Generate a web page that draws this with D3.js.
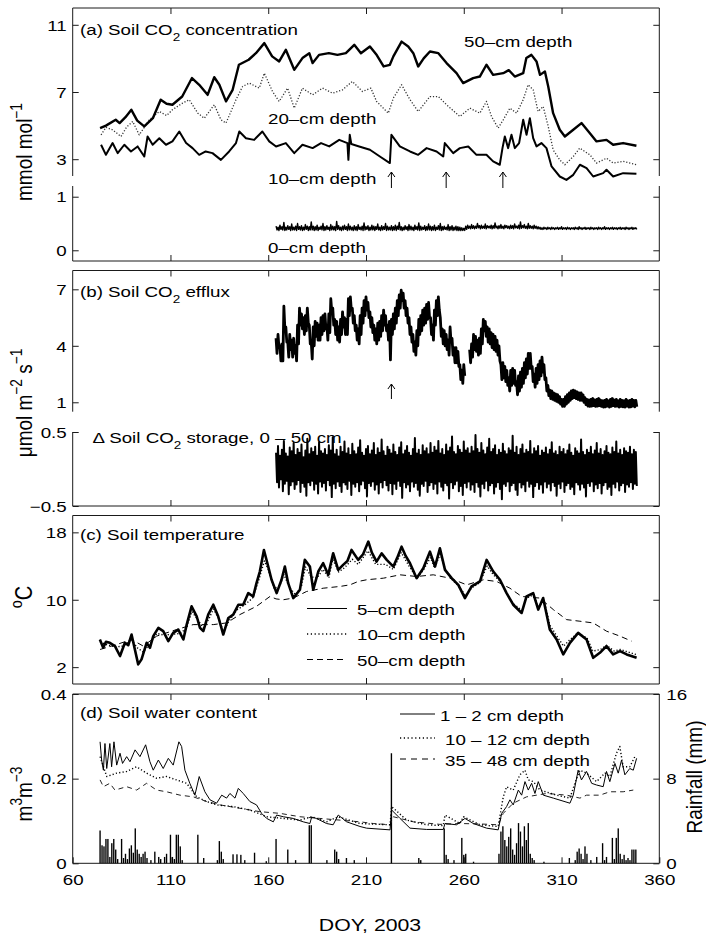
<!DOCTYPE html>
<html><head><meta charset="utf-8">
<script src="https://cdn.jsdelivr.net/npm/d3@7"></script>
<style>
body{margin:0;background:#fff}
svg{display:block}
text{font-family:"Liberation Sans",Arial,Helvetica,sans-serif;fill:#000}
</style>
</head><body>
<svg id="c" width="706" height="938"></svg>
<script>
// ---------------- DATA ----------------
const doyTicks = [60,110,160,210,260,310,360];
const co2Ticks = [3,7,11];
const co2LowTicks = [0,1];
const effluxTicks = [1,4,7];
const storageTicks = [-0.5,0.5];
const tempTicks = [2,10,18];
const swcTicks = [0,0.2,0.4];
const rainTicks = [0,8,16];

// (a) soil CO2 concentration, mmol mol-1  [DOY, value]
const co2_50cm = [[74,4.85],[77,5.0],[82,5.35],[84,5.15],[87,5.5],[90,5.94],[93,5.3],[96.6,4.95],[101,5.44],[105,6.54],[108,6.3],[111,6.24],[116,6.73],[121,7.83],[124.7,7.43],[129,6.83],[132.4,7.88],[135,7.43],[138.4,6.44],[141.8,7.13],[145,8.62],[150,8.92],[153.7,9.31],[158,9.91],[162,9.12],[165.6,8.82],[169,9.51],[173.3,8.32],[177.5,9.02],[181,9.31],[182.7,8.72],[186,9.21],[191,9.31],[195.4,9.21],[199.7,9.31],[204,9.81],[207.4,9.31],[212,9.71],[215.5,9.2],[219,8.52],[222.2,8.62],[224,9.12],[228.2,10.0],[231.6,9.71],[234.2,9.31],[236.7,8.52],[239.5,9.0],[242.7,9.41],[247,9.31],[251.2,8.72],[256.3,8.12],[259.7,7.53],[264.8,7.83],[268.2,7.92],[271.6,8.62],[275,8.02],[280.2,8.12],[283,8.3],[286.1,7.92],[290.4,8.12],[292,9.02],[294.6,9.21],[297.2,8.82],[299,8.02],[301.5,8.22],[303.2,7.33],[305.7,5.74],[309.1,4.75],[311.7,4.35],[316,4.75],[320.2,5.15],[324.5,4.55],[327.9,4.06],[333,4.15],[336.4,3.86],[341.5,3.96],[348.3,3.8]];
const co2_20cm = [[74.5,4.45],[77,4.9],[80.4,4.75],[84.7,4.35],[87.5,4.9],[90.7,5.25],[94,4.45],[99.2,5.35],[104.3,5.84],[108,5.6],[111,5.94],[116.2,6.34],[119.6,6.54],[124,5.74],[127.3,5.44],[132.4,6.24],[135.8,5.35],[138.4,5.15],[143.5,6.54],[146.9,7.33],[150.3,7.53],[155.4,7.23],[158,8.12],[162.2,7.03],[165.6,6.44],[169.9,7.23],[173.3,6.04],[177.5,7.23],[182.7,6.83],[187.8,7.23],[192.9,6.93],[198,7.13],[203,7.63],[208.2,7.03],[210.3,7.13],[212.5,7.23],[215.4,6.44],[221.4,5.74],[224,6.64],[228.2,7.43],[232.5,6.54],[236.7,5.84],[242.7,6.73],[247,6.73],[251.2,6.24],[258,5.54],[263.1,6.04],[268.2,5.74],[271.6,6.44],[274.2,5.54],[277.6,4.85],[280.2,5.35],[283.6,6.04],[287,5.74],[290.4,6.54],[292.9,7.43],[295.5,7.13],[298,5.84],[300.6,6.14],[303.2,4.95],[305.7,3.56],[309.1,2.96],[311.7,2.67],[316,3.16],[319.3,3.66],[324.5,3.26],[327.9,2.77],[333,3.06],[336.4,2.77],[341.5,2.87],[348.3,2.67]];
const co2_10cm = [[74.5,3.86],[77,3.26],[80.4,3.96],[83,3.36],[86.4,3.86],[89.8,3.46],[93.2,3.76],[96.6,3.16],[98.3,4.35],[100.9,3.86],[104.3,4.25],[107.7,3.86],[111,4.06],[114.5,4.65],[118,3.96],[121.3,3.66],[124.7,3.26],[128,3.46],[131.5,3.36],[135.8,2.96],[140,3.46],[143.5,3.96],[145.2,4.65],[148.6,4.25],[152.8,4.15],[157,4.65],[160.5,4.06],[164,3.76],[169,3.96],[173.3,3.36],[177.5,3.86],[182.7,3.66],[187,3.96],[191.2,3.76],[196.3,4.15],[200.5,3.96],[201,2.96],[201.7,4.45],[202.5,3.9],[206.5,3.76],[212,3.56],[217.1,3.16],[222.2,2.77],[223,4.45],[227.3,3.76],[232.5,3.46],[236.7,3.26],[241,3.66],[246.1,3.46],[249.5,3.16],[250.3,3.96],[254.6,3.36],[258,3.66],[262.3,3.76],[266.5,3.26],[271.6,3.26],[275,2.87],[278.4,2.67],[279.8,3.66],[281,4.35],[282.7,3.66],[284.4,4.45],[286.1,3.66],[288.3,3.96],[290.4,5.35],[292.1,4.45],[293.8,5.44],[295.5,4.25],[297.2,3.76],[299.7,3.96],[302.3,3.66],[304.9,2.57],[309.1,1.97],[312.5,1.77],[316,2.07],[319.4,2.67],[322.8,2.47],[326.2,1.97],[331.3,2.17],[333,2.37],[336.4,1.97],[341.5,2.17],[348.3,2.13]];
// 0-cm depth: daily high / low, DOY 164..348
const zeroStart = 164;
const zeroHigh = [0.45,0.43,0.47,0.44,0.52,0.43,0.46,0.44,0.49,0.43,0.45,0.5,0.44,0.46,0.43,0.48,0.45,0.44,0.53,0.45,
0.44,0.47,0.43,0.45,0.5,0.44,0.46,0.43,0.48,0.45,0.44,0.54,0.46,0.43,0.45,0.47,0.44,0.49,0.45,0.43,
0.46,0.44,0.48,0.43,0.45,0.51,0.44,0.46,0.43,0.47,0.45,0.44,0.49,0.43,0.46,0.44,0.5,0.45,0.43,0.46,
0.44,0.47,0.45,0.52,0.44,0.43,0.46,0.44,0.48,0.45,0.43,0.47,0.44,0.51,0.45,0.43,0.46,0.44,0.49,0.45,
0.44,0.47,0.43,0.46,0.5,0.44,0.45,0.43,0.48,0.44,0.46,0.43,0.45,0.44,0.43,0.42,0.41,0.45,0.47,0.45,
0.48,0.46,0.45,0.5,0.46,0.47,0.45,0.49,0.46,0.45,0.47,0.46,0.51,0.45,0.46,0.48,0.45,0.47,0.46,0.45,
0.47,0.46,0.49,0.45,0.47,0.53,0.46,0.48,0.45,0.5,0.46,0.45,0.47,0.45,0.44,0.43,0.42,0.43,0.42,0.43,
0.42,0.43,0.42,0.42,0.43,0.42,0.44,0.42,0.42,0.43,0.42,0.42,0.42,0.43,0.42,0.44,0.42,0.42,0.43,0.42,
0.42,0.43,0.42,0.42,0.42,0.43,0.42,0.42,0.44,0.42,0.42,0.42,0.43,0.42,0.42,0.42,0.43,0.42,0.42,0.43,
0.42,0.42,0.43,0.42,0.42];
const zeroLow = [0.38,0.37,0.39,0.38,0.37,0.38,0.39,0.37,0.38,0.38,0.37,0.39,0.38,0.37,0.38,0.39,0.37,0.38,0.38,0.37,
0.38,0.37,0.39,0.38,0.37,0.38,0.39,0.37,0.38,0.38,0.37,0.39,0.38,0.37,0.38,0.39,0.37,0.38,0.38,0.37,
0.38,0.37,0.39,0.38,0.37,0.38,0.39,0.37,0.38,0.38,0.37,0.39,0.38,0.37,0.38,0.39,0.37,0.38,0.38,0.37,
0.38,0.37,0.39,0.38,0.37,0.38,0.39,0.37,0.38,0.38,0.37,0.39,0.38,0.37,0.38,0.39,0.37,0.38,0.38,0.37,
0.38,0.37,0.39,0.38,0.37,0.38,0.39,0.38,0.37,0.38,0.37,0.38,0.37,0.37,0.37,0.37,0.37,0.39,0.41,0.4,
0.41,0.4,0.41,0.42,0.4,0.41,0.41,0.4,0.42,0.41,0.4,0.41,0.42,0.4,0.41,0.41,0.4,0.42,0.41,0.4,
0.41,0.4,0.42,0.41,0.4,0.41,0.42,0.41,0.4,0.41,0.41,0.4,0.41,0.4,0.4,0.39,0.39,0.4,0.39,0.4,
0.39,0.4,0.39,0.4,0.39,0.4,0.39,0.4,0.39,0.4,0.39,0.4,0.39,0.4,0.39,0.4,0.39,0.4,0.39,0.4,
0.39,0.4,0.39,0.4,0.39,0.4,0.39,0.4,0.39,0.4,0.39,0.4,0.39,0.4,0.39,0.4,0.39,0.4,0.39,0.4,
0.39,0.4,0.39,0.4,0.39];
const arrowDaysA = [223,251,280];
const arrowDaysB = [223];

// (b) soil CO2 efflux, umol m-2 s-1: daily high / low, DOY 164..348 (gap on 261-262)
const effluxStart = 164;
const effluxHigh = [4.4,4.6,4.0,4.1,6.1,5.0,4.2,4.6,4.3,4.4,4.0,5.1,6.0,5.7,5.5,5.6,6.0,5.1,4.2,5.0,
5.3,5.2,5.1,5.5,5.6,5.7,5.1,5.7,6.5,6.0,5.4,5.3,5.0,5.4,5.8,5.5,5.4,6.5,6.6,6.0,
5.6,5.1,4.9,5.6,6.0,6.4,6.6,6.3,5.8,5.5,5.1,4.9,5.2,5.3,5.6,5.9,5.6,5.1,5.3,5.4,
5.7,6.0,6.4,6.7,6.95,6.8,6.4,6.0,5.5,5.0,4.6,4.2,4.8,5.4,5.6,5.9,6.0,6.2,6.3,5.5,
5.1,5.9,6.4,6.6,5.5,4.9,4.8,4.6,4.3,5.0,4.4,3.9,3.9,3.7,3.0,2.7,3.0,null,null,3.8,
4.1,4.6,4.5,4.3,4.4,4.9,5.4,5.3,5.0,4.9,4.7,4.6,4.5,4.3,4.0,3.0,3.1,2.9,2.7,2.3,
2.7,2.8,2.7,2.1,2.4,2.6,2.8,3.1,3.3,3.6,3.6,2.9,2.5,2.8,3.0,3.2,3.4,3.0,2.3,1.9,
1.65,1.6,1.5,1.45,1.4,1.3,1.15,1.15,1.3,1.4,1.5,1.6,1.65,1.6,1.55,1.5,1.5,1.4,1.25,1.15,
1.12,1.15,1.2,1.12,1.15,1.2,1.12,1.08,1.1,1.15,1.08,1.15,1.2,1.12,1.15,1.08,1.15,1.1,1.08,1.15,
1.08,1.1,1.15,1.1,1.1];
const effluxLow = [3.6,3.9,3.2,3.2,4.9,4.2,3.4,3.8,3.4,3.6,3.2,4.1,5.1,4.9,4.6,4.8,5.2,4.1,3.3,4.0,
4.5,4.3,4.3,4.6,4.8,4.9,4.3,4.7,5.8,5.1,4.6,4.3,4.2,4.6,5.0,4.6,4.6,5.6,5.9,5.2,
4.8,4.3,4.1,4.6,5.2,5.6,5.9,5.5,5.0,4.7,4.3,4.1,4.3,4.5,4.8,5.1,4.8,4.3,3.25,4.6,
4.9,5.2,5.6,6.0,6.4,6.0,5.6,5.2,4.6,4.2,3.7,3.5,4.0,4.6,4.8,5.1,5.2,5.4,5.5,4.6,
4.3,5.1,5.6,5.9,4.5,4.1,4.0,3.8,3.5,4.2,3.5,3.1,3.1,2.9,2.2,2.0,2.4,null,null,3.1,
3.4,3.8,3.7,3.5,3.6,4.1,4.8,4.5,4.2,4.1,3.9,3.8,3.7,3.5,3.2,2.2,2.3,2.1,1.9,1.6,
1.9,2.0,1.9,1.4,1.6,1.8,2.0,2.3,2.5,2.8,2.8,2.1,1.8,2.0,2.2,2.4,2.6,2.2,1.6,1.35,
1.2,1.15,1.1,1.05,1.0,0.9,0.78,0.78,0.9,1.0,1.1,1.2,1.25,1.2,1.15,1.1,1.1,1.0,0.88,0.8,
0.78,0.8,0.82,0.78,0.8,0.82,0.78,0.75,0.76,0.8,0.75,0.78,0.82,0.78,0.8,0.75,0.78,0.76,0.75,0.8,
0.75,0.76,0.8,0.76,0.76];
// change in storage 0-50 cm: daily high / low, DOY 164..348
const storageStart = 164;
const storageHigh = [0.22,0.31,0.18,0.26,0.38,0.21,0.17,0.29,0.24,0.35,0.19,0.27,0.22,0.33,0.16,0.25,0.41,0.2,0.28,0.23,
0.3,0.18,0.36,0.24,0.21,0.27,0.19,0.32,0.25,0.43,0.2,0.26,0.17,0.3,0.23,0.37,0.21,0.28,0.19,0.34,
0.24,0.2,0.29,0.39,0.22,0.18,0.27,0.31,0.2,0.25,0.35,0.19,0.28,0.22,0.4,0.24,0.18,0.3,0.26,0.21,
0.33,0.23,0.19,0.29,0.36,0.2,0.25,0.31,0.22,0.18,0.27,0.42,0.21,0.26,0.19,0.32,0.24,0.28,0.2,0.35,
0.22,0.3,0.25,0.38,0.21,0.27,0.19,0.33,0.24,0.29,0.44,0.23,0.2,0.31,0.26,0.22,0.37,0.25,0.28,0.21,
0.3,0.24,0.46,0.27,0.22,0.35,0.25,0.2,0.29,0.41,0.23,0.27,0.32,0.19,0.26,0.22,0.34,0.24,0.2,0.28,
0.25,0.45,0.22,0.3,0.19,0.27,0.33,0.21,0.26,0.23,0.38,0.2,0.28,0.24,0.31,0.18,0.25,0.22,0.29,0.2,
0.26,0.36,0.21,0.24,0.19,0.3,0.23,0.27,0.2,0.25,0.33,0.22,0.18,0.28,0.24,0.21,0.4,0.23,0.19,0.26,
0.22,0.3,0.2,0.25,0.35,0.21,0.27,0.19,0.24,0.31,0.22,0.2,0.29,0.23,0.37,0.21,0.26,0.19,0.28,0.24,
0.22,0.3,0.2,0.26,0.23];
const storageLow = [-0.18,-0.25,-0.14,-0.3,-0.2,-0.16,-0.34,-0.22,-0.17,-0.27,-0.21,-0.15,-0.31,-0.19,-0.24,-0.36,-0.18,-0.22,-0.16,-0.28,
-0.2,-0.33,-0.17,-0.24,-0.19,-0.29,-0.15,-0.22,-0.38,-0.2,-0.26,-0.17,-0.23,-0.31,-0.18,-0.21,-0.27,-0.16,-0.35,-0.2,
-0.24,-0.18,-0.3,-0.21,-0.16,-0.26,-0.37,-0.19,-0.23,-0.17,-0.28,-0.21,-0.33,-0.18,-0.25,-0.15,-0.22,-0.29,-0.19,-0.34,
-0.2,-0.27,-0.16,-0.23,-0.39,-0.18,-0.25,-0.21,-0.3,-0.17,-0.24,-0.19,-0.28,-0.36,-0.2,-0.23,-0.16,-0.31,-0.22,-0.18,
-0.27,-0.2,-0.33,-0.17,-0.24,-0.29,-0.19,-0.22,-0.4,-0.18,-0.26,-0.21,-0.16,-0.3,-0.23,-0.35,-0.19,-0.25,-0.17,-0.28,
-0.21,-0.31,-0.18,-0.24,-0.37,-0.2,-0.26,-0.16,-0.29,-0.22,-0.19,-0.33,-0.24,-0.18,-0.27,-0.41,-0.2,-0.23,-0.17,-0.3,
-0.22,-0.19,-0.28,-0.35,-0.18,-0.25,-0.21,-0.3,-0.16,-0.24,-0.2,-0.38,-0.23,-0.18,-0.27,-0.21,-0.32,-0.17,-0.25,-0.2,
-0.29,-0.18,-0.23,-0.36,-0.2,-0.26,-0.17,-0.31,-0.22,-0.19,-0.27,-0.24,-0.34,-0.18,-0.21,-0.28,-0.2,-0.25,-0.37,-0.19,
-0.23,-0.17,-0.3,-0.21,-0.26,-0.19,-0.33,-0.22,-0.18,-0.27,-0.24,-0.35,-0.2,-0.25,-0.17,-0.29,-0.22,-0.19,-0.31,-0.21,
-0.24,-0.18,-0.27,-0.2,-0.23];

// (c) soil temperature, degC
const temp5cm = [[73.9,5.28],[75.6,4.3],[77,5.0],[79,4.89],[81.6,4.5],[84.2,3.32],[86.7,4.89],[88.4,4.6],[90.1,5.87],[91.8,4.1],[93.5,2.33],[95.2,2.92],[97.8,4.89],[99.5,4.3],[101.2,5.68],[103.8,6.66],[106.3,6.27],[108.9,5.09],[111.4,6.07],[114,6.46],[116.6,5.28],[118.3,7.05],[120.8,9.22],[123.4,8.04],[125.1,6.66],[126.8,6.27],[129.3,8.24],[131.9,9.41],[134.4,8.04],[137,5.87],[139.6,7.84],[142.1,8.24],[144.7,9.41],[147.2,9.41],[149.8,10.79],[152.3,10.39],[154,11.97],[155.7,13.35],[157.8,15.91],[160,13.94],[161.7,12.37],[164.3,10.79],[166.8,12.37],[168.5,13.94],[170.2,11.97],[172.8,10.2],[176.2,11.18],[178.7,14.73],[181.3,13.94],[183,11.18],[185.6,13.35],[188.1,14.34],[190.7,12.96],[193.2,15.52],[195.8,13.55],[198.3,14.14],[200.5,14.6],[202.6,15.91],[206,14.73],[208.5,15.4],[211.2,16.9],[213,15.6],[215.4,14.53],[218,15.5],[220.6,14.73],[224,13.94],[226,15.0],[228.2,16.3],[230.3,15.2],[232.5,14.33],[235.9,12.56],[239.3,13.74],[242.7,15.71],[245.3,13.94],[247.8,16.1],[250.4,13.55],[253.8,12.56],[257.2,11.77],[260.6,10.2],[264,11.58],[268.3,12.17],[271.7,14.73],[275.1,13.35],[278.5,12.37],[281.9,10.79],[285.3,9.41],[289.6,8.43],[292.1,10.39],[295.5,10.79],[298.1,8.83],[300.6,10.2],[304,6.46],[307.5,5.28],[310.9,3.51],[314.3,4.89],[318.5,6.07],[322.8,5.28],[326.2,3.11],[329.6,3.7],[333,4.5],[336.4,3.51],[339.9,3.9],[343.3,3.51],[348.4,3.11]];
const temp10cm = [[74,5.0],[78,4.6],[82,4.4],[86,4.5],[90,5.3],[93,4.3],[96,3.8],[99,4.6],[103,6.0],[107,5.8],[111,5.9],[115,6.0],[118,6.6],[121,8.6],[124,7.6],[127,6.6],[130,7.9],[132,8.9],[135,7.6],[137,6.2],[140,7.5],[144,8.8],[148,9.4],[152,10.2],[155,12.2],[158,14.6],[160,13.6],[163,11.3],[166,11.7],[168,13.0],[171,11.4],[174,10.6],[177,11.6],[179,13.9],[182,12.7],[185,12.6],[188,13.6],[191,12.6],[193,14.8],[196,13.3],[199,13.8],[203,14.8],[206,14.2],[211,15.8],[215,14.2],[220,14.2],[224,13.6],[228,15.6],[232,14.0],[236,12.6],[239,13.4],[243,15.0],[245,13.8],[248,15.4],[251,13.4],[254,12.4],[257,11.7],[261,10.5],[264,11.4],[268,12.0],[272,14.0],[275,13.0],[279,12.1],[282,10.7],[285,9.6],[290,8.7],[292,10.2],[296,10.6],[298,9.0],[301,10.0],[304,7.0],[307,5.9],[311,4.5],[314,5.2],[318,6.0],[323,5.5],[326,3.9],[330,4.1],[333,4.6],[337,3.9],[340,4.1],[344,3.8],[348,3.5]];
const temp50cm = [[74,4.1],[82.5,4.69],[90.1,5.28],[96.1,4.5],[102.9,5.68],[113.1,6.46],[121.6,7.05],[131.9,7.05],[138.7,7.25],[145.5,8.24],[154,9.22],[160.9,10.39],[164,10.1],[167.7,10.0],[172.8,10.2],[179.6,10.98],[188.1,11.37],[196.7,11.58],[201.8,11.77],[206,12.17],[210.3,12.37],[218.9,12.56],[227.4,12.96],[235.9,12.76],[244.4,12.96],[252.9,12.56],[261.5,11.77],[270,12.37],[276.8,12.17],[283.6,11.37],[289.6,10.39],[298.9,10.2],[305.8,8.83],[312.6,7.64],[319.4,7.45],[326.2,7.25],[333,6.27],[339.9,5.68],[345.8,5.09]];

// (d) soil water content, m3 m-3
const swc1to2 = [[74,0.287],[74.8,0.244],[75.7,0.22],[76.5,0.283],[77.4,0.224],[79,0.283],[79.9,0.228],[81.1,0.287],[82.5,0.232],[84.2,0.26],[85.5,0.236],[87.6,0.252],[89.3,0.24],[91.9,0.268],[94.4,0.252],[97.3,0.28],[99.5,0.24],[101.2,0.22],[103.8,0.244],[106.3,0.224],[108.9,0.248],[111.4,0.232],[114.3,0.287],[115.7,0.276],[117.4,0.22],[119.9,0.189],[122.5,0.161],[124.7,0.205],[127.6,0.169],[130.2,0.15],[133.6,0.142],[136.2,0.161],[138.7,0.154],[140.4,0.165],[143,0.154],[144.7,0.177],[147.2,0.165],[150.6,0.146],[154,0.138],[156.6,0.118],[159.2,0.106],[162.6,0.098],[164.3,0.114],[167.7,0.11],[172.8,0.106],[177.9,0.098],[181.3,0.094],[182.2,0.109],[184.7,0.106],[189.8,0.094],[193.2,0.091],[195.8,0.114],[200.1,0.098],[206.9,0.087],[210.3,0.083],[222.3,0.079],[223.1,0.126],[227.4,0.106],[232.5,0.083],[241,0.08],[249.5,0.08],[250.4,0.094],[256.3,0.091],[260.6,0.106],[264.9,0.094],[271.7,0.083],[277.6,0.079],[279.4,0.118],[281.9,0.134],[283.6,0.15],[285.3,0.138],[287.9,0.173],[289.6,0.161],[291.3,0.193],[293,0.173],[294.7,0.189],[296.4,0.165],[298.1,0.193],[300.7,0.161],[305.8,0.154],[314.3,0.142],[316,0.161],[318.5,0.22],[320.2,0.197],[322.8,0.217],[325.4,0.189],[327.9,0.185],[331.3,0.181],[333,0.217],[334.7,0.193],[337.3,0.236],[339,0.213],[340.7,0.244],[342.4,0.209],[344.9,0.224],[346.7,0.22],[348.4,0.248]];
const swc10to12 = [[74,0.252],[77.4,0.205],[82.5,0.213],[87.6,0.217],[92.7,0.228],[97.8,0.213],[102.9,0.201],[108,0.205],[113.1,0.197],[118.3,0.189],[123.4,0.157],[128.5,0.146],[133.6,0.138],[142.1,0.134],[150.6,0.126],[159.2,0.11],[167.7,0.106],[176.2,0.102],[182.2,0.11],[189.8,0.098],[195.8,0.11],[206.9,0.094],[222.3,0.091],[223.1,0.134],[230.8,0.102],[241,0.091],[249.5,0.089],[250.4,0.114],[258,0.094],[259.8,0.11],[268.3,0.091],[277.6,0.087],[280.2,0.157],[281.9,0.181],[285.3,0.173],[288.7,0.209],[291.3,0.22],[293,0.197],[295.6,0.193],[299,0.173],[307.5,0.161],[314.3,0.154],[316.8,0.189],[319.4,0.22],[322.8,0.213],[327.9,0.193],[332.2,0.213],[334.7,0.205],[338.1,0.26],[339.8,0.276],[341.5,0.228],[344.9,0.228],[347.5,0.252]];
const swc35to48 = [[74,0.197],[75.7,0.181],[79,0.189],[81.6,0.173],[87.6,0.181],[92.7,0.173],[97.8,0.189],[102.9,0.173],[108,0.169],[114.9,0.161],[121.7,0.157],[128.5,0.146],[135.3,0.138],[145.5,0.13],[155.7,0.122],[166,0.118],[176.2,0.11],[186.4,0.106],[196.7,0.102],[206.9,0.098],[213.7,0.094],[222.3,0.091],[224,0.11],[234.2,0.098],[247.8,0.092],[258,0.094],[268.3,0.093],[277.6,0.091],[280.2,0.118],[285.3,0.142],[292.1,0.157],[302.4,0.165],[312.6,0.161],[319.4,0.154],[322.8,0.161],[329.6,0.161],[334.7,0.169],[341.5,0.169],[346.7,0.173]];
// rainfall, mm
const rainDoy = [74,75,76,77,78,79,80,81,82,83,85,86,87,88,89,90,91,92,93,94,95,96,97,98,100,102,104,105,107,108,110,111,112,113,114,115,116,124,127,134,135,136,137,142,144,146,148,153,159,164,170,174,181,182,190,194,195,196,200,204,223,237,238,250,251,252,255,259,260,261,265,278,279,280,281,282,283,284,285,286,287,288,289,290,291,292,293,294,295,296,301,314,317,318,319,320,321,322,323,325,328,331,332,333,336,337,338,339,340,341,342,343,344,345,346,347,348];
const rainMm = [3.1,1.7,1.6,2.3,2.3,0.6,1.9,2.3,1.3,0.4,2.3,0.5,0.9,0.4,1.4,1.7,1.0,3.3,1.3,0.9,0.6,0.9,1.1,0.5,0.3,1.1,0.6,0.4,0.6,0.9,2.7,0.6,0.4,2.7,2.7,1.6,0.3,2.7,0.5,0.3,2.1,1.1,0.4,0.85,0.85,0.8,0.3,1.0,0.2,2.3,1.3,0.3,3.6,3.6,0.3,1.3,1.1,0.4,0.5,0.3,10.4,0.5,0.3,3.3,0.8,0.4,0.3,2.4,0.8,0.9,0.15,0.9,3.0,3.5,2.2,1.6,2.5,3.3,1.3,0.8,1.9,3.8,3.0,1.6,3.5,2.2,3.8,0.9,0.5,0.3,0.15,0.5,0.3,1.1,1.4,0.9,0.4,1.6,0.9,0.3,0.6,1.9,0.3,0.6,2.4,0.4,2.4,3.3,0.9,0.4,0.8,0.3,0.5,0.3,1.3,1.3,1.3];

// ---------------- DRAWING ----------------
const svg = d3.select('#c');
const SX = 1.25;   // horizontal text stretch of the original figure
const x = d3.scaleLinear().domain([60,360]).range([72.7,659.3]);

function rich(t, parts, size){
  let off = 0;
  parts.forEach(p => {
    let s = p, k = null;
    if (Array.isArray(p)) { s = p[0]; k = p[1]; }
    const target = k === 'sub' ? size*0.38 : k === 'sup' ? -size*0.45 : 0;
    t.append('tspan').attr('dy', target - off).attr('font-size', k ? size*0.72 : size).text(s);
    off = target;
  });
  return t;
}
function htext(px, py, parts, size, anchor){
  const t = svg.append('text')
    .attr('transform', `translate(${px},${py}) scale(${SX},1)`)
    .attr('font-size', size).attr('text-anchor', anchor || 'start');
  return rich(t, parts, size);
}
function vtext(px, py, parts, size){
  const t = svg.append('text')
    .attr('transform', `translate(${px},${py}) rotate(-90) scale(1,1.15)`)
    .attr('font-size', size).attr('text-anchor', 'middle');
  return rich(t, parts, size);
}

// frame + axes for one sub-panel
function panel(y, opts){
  const [yb, yt] = y.range();
  const g = svg.append('g');
  const x0 = x(60), x1 = x(360);
  const fr = g.append('g').attr('stroke', '#1a1a1a').attr('stroke-width', 1).attr('fill', 'none');
  fr.append('line').attr('x1', x0).attr('x2', x0).attr('y1', yt).attr('y2', yb);
  fr.append('line').attr('x1', x1).attr('x2', x1).attr('y1', yt).attr('y2', yb);
  if (opts.top) fr.append('line').attr('x1', x0).attr('x2', x1).attr('y1', yt).attr('y2', yt);
  if (opts.bottom) fr.append('line').attr('x1', x0).attr('x2', x1).attr('y1', yb).attr('y2', yb);

  const clean = a => { a.select('.domain').remove(); a.attr('font-family', null).attr('font-size', null); };
  const left = g.append('g').attr('transform', `translate(${x0},0)`)
    .call(d3.axisLeft(y).tickValues(opts.ticks).tickSize(-6).tickPadding(0).tickFormat(opts.fmt || (d => d)));
  clean(left);
  left.selectAll('text').attr('x', null).attr('dy', '0.35em')
    .attr('transform', `translate(-6,0) scale(${SX},1)`).attr('font-size', 15);
  const right = g.append('g').attr('transform', `translate(${x1},0)`)
    .call(d3.axisRight(opts.rightScale || y).tickValues(opts.rightTicks || opts.ticks).tickSize(-6)
      .tickFormat(opts.rightScale ? (d => d) : ''));
  clean(right);
  right.selectAll('text').attr('x', null).attr('dy', '0.35em')
    .attr('transform', `translate(7,0) scale(${SX},1)`).attr('font-size', 15);
  if (opts.top) {
    const a = g.append('g').attr('transform', `translate(0,${yt})`)
      .call(d3.axisTop(x).tickValues(doyTicks.slice(1, -1)).tickSize(-6).tickFormat(''));
    clean(a);
  }
  if (opts.bottom) {
    const a = g.append('g').attr('transform', `translate(0,${yb})`)
      .call(d3.axisBottom(x).tickValues(opts.xLabels ? doyTicks : doyTicks.slice(1, -1)).tickSize(-6)
        .tickPadding(0).tickFormat(opts.xLabels ? (d => d) : ''));
    clean(a);
    a.selectAll('text').attr('y', null).attr('dy', null)
      .attr('transform', `translate(0,21.5) scale(${SX},1)`).attr('font-size', 15);
  }
  g.selectAll('.tick line').attr('stroke', '#1a1a1a');
  return g;
}

const lineGen = y => d3.line().defined(d => d[1] !== null).x(d => x(d[0])).y(d => y(d[1]));
function draw(data, y, attrs){
  const p = svg.append('path').datum(data).attr('d', lineGen(y)).attr('fill', 'none')
    .attr('stroke', '#000').attr('stroke-linejoin', 'round');
  Object.entries(attrs || {}).forEach(([k, v]) => p.attr(k, v));
  return p;
}
// daily zig-zag between high and low values
function zigzag(start, hi, lo){
  const out = [];
  hi.forEach((h, i) => { out.push([start + i, h]); out.push([start + i + 0.5, lo[i]]); });
  return out;
}
function arrow(day, yTop, yBot){
  const xa = x(day);
  svg.append('path')
    .attr('d', `M${xa},${yBot}V${yTop}M${xa - 3.5},${yTop + 5}L${xa},${yTop}L${xa + 3.5},${yTop + 5}`)
    .attr('fill', 'none').attr('stroke', '#000').attr('stroke-width', 1);
}

// ---- panel (a)
const yA = d3.scaleLinear().domain([2,12]).range([176,8]);
const yA0 = d3.scaleLinear().domain([-0.2,1.2]).range([261,186]);
panel(yA, {ticks: co2Ticks, top: true});
panel(yA0, {ticks: co2LowTicks, bottom: true});
draw(co2_20cm, yA, {'stroke-width': 1.3, 'stroke-dasharray': '1.2,1.8', stroke: '#333'});
draw(co2_50cm, yA, {'stroke-width': 2.4});
draw(co2_10cm, yA, {'stroke-width': 2});
draw(zigzag(zeroStart, zeroHigh, zeroLow), yA0, {'stroke-width': 1.4});
htext(80, 35, ['(a) Soil CO', ['2','sub'], ' concentration'], 15);
htext(464, 47, ['50\u2013cm depth'], 15);
htext(268, 124, ['20\u2013cm depth'], 15);
htext(268, 184, ['10\u2013cm depth'], 15);
htext(268, 253, ['0\u2013cm depth'], 15);
arrowDaysA.forEach(d => arrow(d, 172, 188));
vtext(32, 152, ['mmol mol', ['\u22121','sup']], 19);

// ---- panel (b)
const yB = d3.scaleLinear().domain([0.5,8]).range([411.7,270.5]);
const yB0 = d3.scaleLinear().domain([-0.5,0.5]).range([506,432]);
panel(yB, {ticks: effluxTicks, top: true});
panel(yB0, {ticks: storageTicks, bottom: true, fmt: d => d < 0 ? '\u22120.5' : '0.5'});
draw(zigzag(effluxStart, effluxHigh, effluxLow), yB, {'stroke-width': 2.8});
draw(zigzag(storageStart, storageHigh, storageLow), yB0, {'stroke-width': 2});
htext(80, 297, ['(b) Soil CO', ['2','sub'], ' efflux'], 15);
htext(92.5, 443, ['\u0394 Soil CO', ['2','sub'], ' storage, 0 \u2013 50 cm'], 15);
arrowDaysB.forEach(d => arrow(d, 384, 399));
vtext(32, 403, ['\u03bcmol m', ['\u22122','sup'], ' s', ['\u22121','sup']], 19);

// ---- panel (c)
const yC = d3.scaleLinear().domain([0,20]).range([684,515.5]);
panel(yC, {ticks: tempTicks, top: true, bottom: true});
draw(temp50cm, yC, {'stroke-width': 1, 'stroke-dasharray': '6,4'});
draw(temp10cm, yC, {'stroke-width': 1.4, 'stroke-dasharray': '1.2,2'});
draw(temp5cm, yC, {'stroke-width': 2.6});
htext(80, 540, ['(c) Soil temperature'], 15);
const legC = [['5\u2013cm depth', null, 1.2, 608.5], ['10\u2013cm depth', '1.2,2.6', 1.4, 634], ['50\u2013cm depth', '6,4', 1, 659.5]];
legC.forEach(([label, dash, w, ly]) => {
  svg.append('line').attr('x1', 307).attr('x2', 347).attr('y1', ly).attr('y2', ly)
    .attr('stroke', '#000').attr('stroke-width', w).attr('stroke-dasharray', dash);
  htext(357, ly + 6, [label], 15);
});
vtext(32, 597, [['o','sup'], 'C'], 20);

// ---- panel (d)
const yD = d3.scaleLinear().domain([0,0.4]).range([863.3,694]);
const yR = d3.scaleLinear().domain([0,16]).range([863.3,694]);
panel(yD, {ticks: swcTicks, top: true, bottom: true, xLabels: true, rightScale: yR, rightTicks: rainTicks});
svg.append('g').selectAll('rect').data(rainDoy.map((d, i) => [d, rainMm[i]])).join('rect')
  .attr('x', d => x(d[0] - 0.35)).attr('width', d => x(d[0] + 0.35) - x(d[0] - 0.35))
  .attr('y', d => yR(d[1])).attr('height', d => yR(0) - yR(d[1])).attr('fill', '#000');
draw(swc35to48, yD, {'stroke-width': 1, 'stroke-dasharray': '5,4', stroke: '#222'});
draw(swc10to12, yD, {'stroke-width': 1.4, 'stroke-dasharray': '1.2,2.2'});
draw(swc1to2, yD, {'stroke-width': 1});
htext(80, 718, ['(d) Soil water content'], 15);
const legD = [['1 \u2013 2 cm depth', null, 1, 714, 440], ['10 \u2013 12 cm depth', '1.2,2.6', 1.4, 738, 445], ['35 \u2013 48 cm depth', '6,5', 1, 759, 445]];
legD.forEach(([label, dash, w, ly, tx]) => {
  svg.append('line').attr('x1', 400).attr('x2', 435).attr('y1', ly).attr('y2', ly)
    .attr('stroke', '#000').attr('stroke-width', w).attr('stroke-dasharray', dash);
  htext(tx, ly + 7, [label], 15);
});
vtext(32, 794, ['m', ['3','sup'], 'm', ['\u22123','sup']], 19);
vtext(702, 777, ['Rainfall (mm)'], 19);
htext(370, 931, ['DOY,  2003'], 17, 'middle');
</script>
</body></html>
